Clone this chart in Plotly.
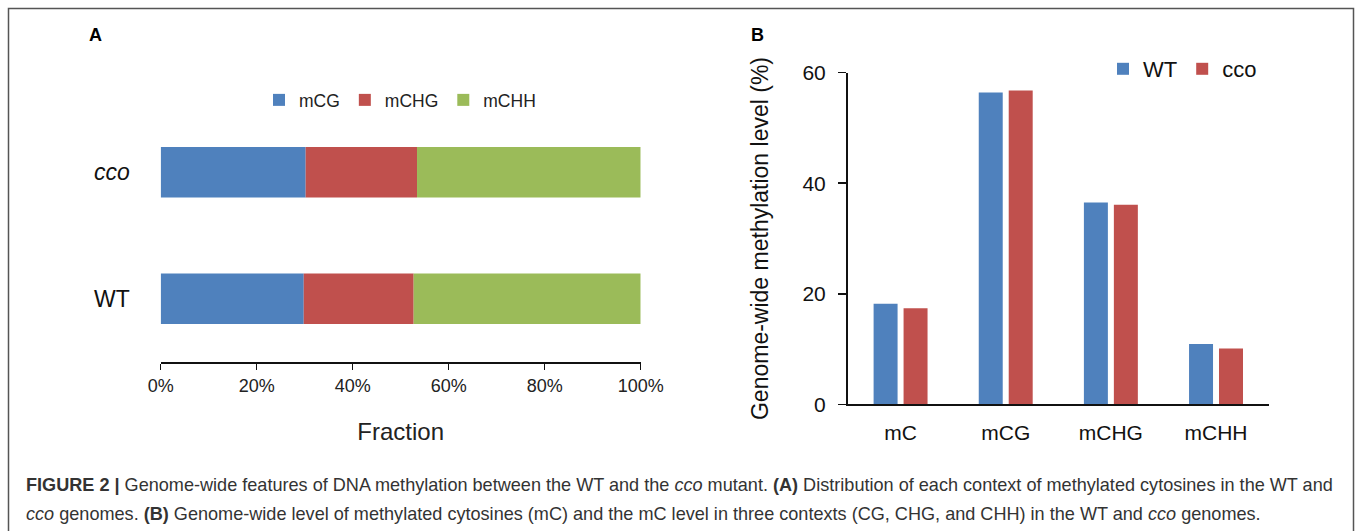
import plotly.graph_objects as go

# ---------------- data ----------------
genotypes_a = ["WT", "cco"]
contexts_a = ["mCG", "mCHG", "mCHH"]
frac_mCG = [29.8, 30.2]
frac_mCHG = [22.9, 23.2]
frac_mCHH = [47.3, 46.6]

categories_b = ["mC", "mCG", "mCHG", "mCHH"]
level_wt = [18.2, 56.4, 36.5, 10.9]
level_cco = [17.4, 56.8, 36.1, 10.1]

x_ticks_a = [0, 20, 40, 60, 80, 100]
y_ticks_b = [0, 20, 40, 60]

BLUE = "#4F81BD"
RED = "#C0504D"
GREEN = "#9BBB59"
FONT = "Liberation Sans, Arial, Helvetica, sans-serif"

W, H = 1358, 531


def px(x):
    return x / W


def py(y):
    return (H - y) / H


fig = go.Figure()

# ---------------- panel A: stacked horizontal bars ----------------
series_a = [frac_mCG, frac_mCHG, frac_mCHH]
colors_a = [BLUE, RED, GREEN]
bases = [0.0] * len(genotypes_a)
for name, vals, col in zip(contexts_a, series_a, colors_a):
    fig.add_trace(go.Bar(
        y=genotypes_a, x=vals, base=list(bases), orientation="h",
        name=name, marker=dict(color=col, line=dict(width=0)),
        width=0.4, offsetgroup="A", xaxis="x", yaxis="y", legend="legend",
    ))
    bases = [b + v for b, v in zip(bases, vals)]

# ---------------- panel B: grouped vertical bars ----------------
fig.add_trace(go.Bar(x=categories_b, y=level_wt, name="WT",
                     marker=dict(color=BLUE, line=dict(width=0)),
                     xaxis="x2", yaxis="y2", legend="legend2"))
fig.add_trace(go.Bar(x=categories_b, y=level_cco, name="cco",
                     marker=dict(color=RED, line=dict(width=0)),
                     xaxis="x2", yaxis="y2", legend="legend2"))

fig.update_layout(
    width=W, height=H,
    margin=dict(l=0, r=0, t=0, b=0, pad=0, autoexpand=False),
    paper_bgcolor="white", plot_bgcolor="white",
    font=dict(family=FONT, color="#111111"),
    barmode="group", bargap=0.43, bargroupgap=0.2,
    xaxis=dict(
        domain=[px(160.7), px(640.7)], anchor="y", automargin=False,
        range=[0, 100], tickvals=x_ticks_a,
        ticktext=[f"{v}%" for v in x_ticks_a],
        showgrid=False, zeroline=False,
        showline=True, linecolor="#111111", linewidth=2,
        ticks="outside", ticklen=6, tickwidth=1.5, tickcolor="#111111",
        tickfont=dict(size=18, color="#222222"),
        title=dict(text="Fraction", font=dict(size=24, color="#222222"), standoff=29),
    ),
    yaxis=dict(
        domain=[py(362), py(109)], anchor="x", automargin=False,
        type="category", categoryorder="array", categoryarray=genotypes_a,
        range=[-0.5, 1.5],
        tickvals=genotypes_a, ticktext=["WT", "<i>cco</i>"],
        showgrid=False, zeroline=False, showline=False, ticks="",
        ticklabelstandoff=30,
        tickfont=dict(size=23, color="#111111"),
    ),
    xaxis2=dict(
        domain=[px(848), px(1268.6)], anchor="y2", automargin=False,
        type="category", categoryorder="array", categoryarray=categories_b,
        showgrid=False, zeroline=False,
        showline=True, linecolor="#111111", linewidth=2, ticks="",
        ticklabelstandoff=8,
        tickfont=dict(size=21, color="#111111"),
    ),
    yaxis2=dict(
        domain=[py(404.3), py(72.7)], anchor="x2", automargin=False,
        range=[0, 60], tickvals=y_ticks_b,
        showgrid=False, zeroline=False,
        showline=True, linecolor="#111111", linewidth=2,
        ticks="outside", ticklen=8, tickwidth=1.5, tickcolor="#111111",
        ticklabelstandoff=8,
        tickfont=dict(size=21, color="#111111"),
        title=dict(text="Genome-wide methylation level (%)",
                   font=dict(size=23, color="#111111"), standoff=27),
    ),
    legend=dict(
        orientation="h", x=px(259), xanchor="left", y=py(100), yanchor="middle",
        font=dict(size=17.5, color="#222222"), bgcolor="rgba(0,0,0,0)",
        itemclick=False, itemdoubleclick=False,
    ),
    legend2=dict(
        orientation="h", x=px(1103), xanchor="left", y=py(69), yanchor="middle",
        font=dict(size=22, color="#111111"), bgcolor="rgba(0,0,0,0)",
        itemclick=False, itemdoubleclick=False,
    ),
    showlegend=True,
)

# panel letters
fig.add_annotation(text="<b>A</b>", x=px(95), y=py(35), xref="paper", yref="paper",
                   xanchor="center", yanchor="middle",
                   showarrow=False, font=dict(size=18, color="#000000"))
fig.add_annotation(text="<b>B</b>", x=px(757), y=py(35), xref="paper", yref="paper",
                   xanchor="center", yanchor="middle",
                   showarrow=False, font=dict(size=18, color="#000000"))

# caption
cap1 = ("<b>FIGURE 2 |</b> Genome-wide features of DNA methylation between the WT and the "
        "<i>cco</i> mutant. <b>(A)</b> Distribution of each context of methylated cytosines in the WT and")
cap2 = ("<i>cco</i> genomes. <b>(B)</b> Genome-wide level of methylated cytosines (mC) and the mC "
        "level in three contexts (CG, CHG, and CHH) in the WT and <i>cco</i> genomes.")
for txt, yy in [(cap1, 485), (cap2, 514)]:
    fig.add_annotation(text=txt, x=px(24), y=py(yy), xref="paper", yref="paper",
                       xanchor="left", yanchor="middle", showarrow=False, align="left",
                       font=dict(size=18.1, color="#333333", family=FONT))

# outer frame
fig.add_shape(type="rect", xref="paper", yref="paper",
              x0=px(8.5), x1=px(1353.5), y0=-0.05, y1=py(8.5),
              line=dict(color="#555555", width=1.5), fillcolor="rgba(0,0,0,0)")

fig.write_html(
    "out.html",
    config={"displayModeBar": False, "staticPlot": True},
    post_script="document.body.style.margin='0';document.body.style.overflow='hidden';",
)
